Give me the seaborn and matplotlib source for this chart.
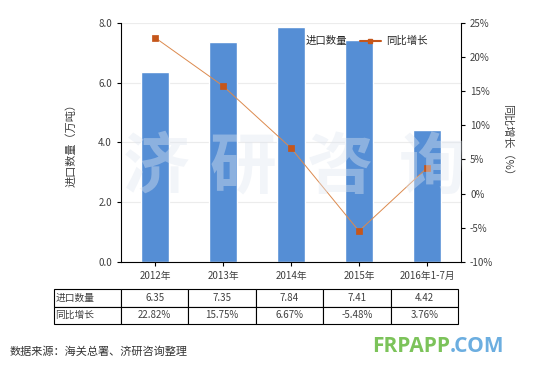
import matplotlib
matplotlib.use("Agg")
from matplotlib import pyplot as plt
from matplotlib.lines import Line2D
from matplotlib.patches import Patch
from matplotlib.ticker import FuncFormatter
import seaborn as sns
import pandas as pd

years = ["2012年", "2013年", "2014年", "2015年", "2016年1-7月"]
imports = [6.35, 7.35, 7.84, 7.41, 4.42]
growth = [22.82, 15.75, 6.67, -5.48, 3.76]

sns.set_style("white")
plt.rcParams['font.family'] = ['Noto Sans CJK SC', 'DejaVu Sans']
plt.rcParams['axes.unicode_minus'] = False

bar_color = "#558ED5"
line_color = "#DC8A4E"
marker_color = "#C5561A"
text_color = "#404040"

df = pd.DataFrame({"year": years, "imports": imports, "growth": growth})

fig = plt.figure(figsize=(5.47, 3.69), dpi=100)
ax = fig.add_axes([0.2212, 0.29, 0.6216, 0.6485])

sns.barplot(data=df, x="year", y="imports", color=bar_color, saturation=1,
            width=0.41, ax=ax, zorder=2)
ax.set_ylim(0, 8)
ax.set_yticks([0, 2, 4, 6, 8])
ax.yaxis.set_major_formatter(FuncFormatter(lambda v, p: f"{v:.1f}"))
ax.grid(axis="y", color="#ececec", linewidth=0.8, zorder=0)
ax.set_axisbelow(True)
ax.set_xlabel("")
ax.set_ylabel("进口数量（万吨）", fontsize=8, color=text_color, labelpad=16)

ax2 = ax.twinx()
sns.pointplot(data=df, x="year", y="growth", color=marker_color, markers="s",
              markersize=4, linewidth=0.7, ax=ax2)
for ln in ax2.lines:
    ln.set_color(line_color)
    ln.set_markerfacecolor(marker_color)
    ln.set_markeredgecolor(marker_color)
ax2.set_ylim(-10, 25)
ax2.set_yticks(range(-10, 26, 5))
ax2.yaxis.set_major_formatter(FuncFormatter(lambda v, p: f"{v:.0f}%"))
ax2.set_ylabel("同比增长（%）", fontsize=8, color=text_color, rotation=270, labelpad=14)
ax2.set_xlabel("")
ax.set_xlim(-0.5, 4.5)
ax2.set_xlim(-0.5, 4.5)

for a in (ax, ax2):
    for s in a.spines.values():
        s.set_visible(False)
    a.tick_params(labelsize=7, colors=text_color, length=3, width=0.8)
ax.spines["left"].set_visible(True)
ax.spines["bottom"].set_visible(True)
ax2.spines["right"].set_visible(True)
for s in (ax.spines["left"], ax.spines["bottom"], ax2.spines["right"]):
    s.set_color("black")
    s.set_linewidth(0.8)
ax.tick_params(axis="both", direction="out", left=True, bottom=True)
ax.tick_params(axis="x", color="black")
ax.tick_params(axis="y", color="black")
ax2.tick_params(axis="y", direction="out", right=True, color="black")

handles = [Patch(facecolor=bar_color, edgecolor=bar_color),
           Line2D([0], [0], color=marker_color, marker="s", markersize=3.5, linewidth=1.5)]
ax2.legend(handles, ["进口数量", "同比增长"], ncol=2, frameon=False, fontsize=7.5,
           loc="center left", bbox_to_anchor=(0.44, 0.923), handlelength=2.0,
           columnspacing=1.2, handletextpad=0.5)

# watermark
for ch, xc in zip("济研咨询", [156, 243, 340, 432]):
    fig.text(xc / 547, 1 - 168 / 369, ch, fontsize=48, fontweight="bold",
             color="#dfe6f0", alpha=0.4, ha="center", va="center", zorder=5)

# data table under the chart
tax = fig.add_axes([54 / 547, 1 - 324 / 369, 404 / 547, 35 / 369])
tax.axis("off")
cells = [["进口数量"] + [f"{v:.2f}" for v in imports],
         ["同比增长"] + [f"{v:.2f}%" for v in growth]]
tbl = tax.table(cellText=cells, bbox=[0, 0, 1, 1], cellLoc="center",
                colWidths=[67] + [67.4] * 5)
tbl.auto_set_font_size(False)
tbl.set_fontsize(7)
for (r, c), cell in tbl.get_celld().items():
    cell.set_linewidth(0.8)
    cell.set_edgecolor("black")
    cell.get_text().set_color(text_color)
    if c == 0:
        cell.get_text().set_ha("left")
        cell.PAD = 0.02

fig.text(10 / 547, 1 - 352 / 369, "数据来源：海关总署、济研咨询整理", fontsize=8,
         color="#333333", va="center", ha="left")
logo = fig.text(372 / 547, 1 - 346 / 369, "FRPAPP", fontsize=15, fontweight="bold",
                color="#7CC35A", va="center", ha="left", family=["Open Sans", "DejaVu Sans"])
fig.canvas.draw()
bb = logo.get_window_extent()
fig.text(bb.x1 / fig.bbox.width, 1 - 346 / 369, ".COM", fontsize=15, fontweight="bold",
         color="#6CAEE0", va="center", ha="left", family=["Open Sans", "DejaVu Sans"])

fig.savefig("out.png", dpi=100)
